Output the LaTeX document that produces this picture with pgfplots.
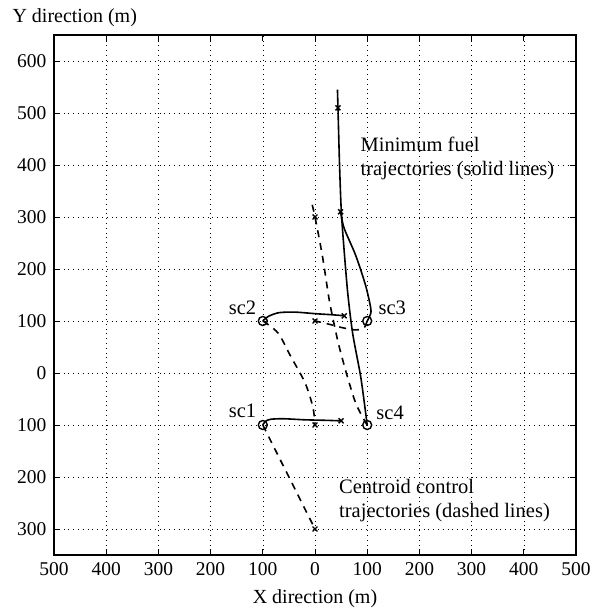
\documentclass[border=0pt]{standalone}
\usepackage{fontspec}
\setmainfont{Liberation Serif}
\usepackage{pgfplots}
\pgfplotsset{compat=1.18}

\begin{document}
\begin{tikzpicture}
\begin{axis}[
    scale only axis,
    width=522pt, height=520pt,
    xmin=-500, xmax=500, ymin=-350, ymax=650,
    xtick={-500,-400,...,500},
    xticklabels={500,400,300,200,100,0,100,200,300,400,500},
    ytick={-300,-200,...,600},
    yticklabels={300,200,100,0,100,200,300,400,500,600},
    tick align=inside,
    major tick length=6pt,
    grid=major,
    grid style={black, line width=0.6pt, dash pattern=on 0.8pt off 4pt},
    axis line style={line width=1.1pt},
    tick style={black, line width=0.9pt},
    ticklabel style={font=\fontsize{19.5}{21}\selectfont},
    xticklabel style={yshift=-4pt},
    yticklabel style={xshift=-4pt},
    /pgf/number format/assume math mode=true,
    xlabel={X direction (m)},
    every axis x label/.style={at={(axis description cs:0.5,0)}, anchor=north, yshift=-31pt, font=\fontsize{20}{22}\selectfont},
    ylabel={Y direction (m)},
    every axis y label/.style={at={(axis description cs:0,1)}, anchor=south west, xshift=-45pt, yshift=5pt, font=\fontsize{20}{22}\selectfont},
    clip=false,
]
% minimum fuel (solid)
\addplot[black, line width=1.6pt, smooth, tension=0.5] coordinates {
    (-100,-100) (-95,-93) (-85,-89) (-60,-88) (-20,-90) (20,-91) (50,-92)};
\addplot[black, line width=1.6pt, smooth, tension=0.5] coordinates {
    (-100,100) (-89,109) (-69,116) (-37,117) (1,114) (33,112) (56,110)};
\addplot[black, line width=1.6pt, smooth, tension=0.5] coordinates {
    (100,100) (105,110) (107,123) (97,168) (78,226) (56,278) (49,310)};
\addplot[black, line width=1.6pt, smooth, tension=0.4] coordinates {
    (100,-100) (88,-10) (72,77) (62,161) (51,300) (47,400) (44,510) (43,545)};
% centroid control (dashed)
\addplot[black, line width=1.6pt, dash pattern=on 7pt off 6pt] coordinates {
    (-100,-100) (0,-300)};
\addplot[black, line width=1.6pt, dash pattern=on 7pt off 6pt, smooth] coordinates {
    (-100,100) (-71,77) (-46,31) (-19,-19) (-4,-66) (0,-100)};
\addplot[black, line width=1.6pt, dash pattern=on 7pt off 6pt, smooth] coordinates {
    (100,100) (95,88) (88,84) (75,83) (53,87) (30,93) (14,97) (0,100)};
\addplot[black, line width=1.6pt, dash pattern=on 7pt off 6pt, smooth] coordinates {
    (100,-100) (94,-90) (78,-58) (62,-7) (46,52) (36,97) (27,142) (14,226) (0,300) (-6,326)};
% markers
\addplot[only marks, mark=x, mark size=3.5pt, line width=1.4pt, black] coordinates {
    (0,300) (0,100) (0,-100) (0,-300) (56,110) (50,-92) (49,310) (44,510)};
\addplot[only marks, mark=o, mark size=4.5pt, line width=1.4pt, black, fill=white] coordinates {
    (-100,-100) (-100,100) (100,100) (100,-100)};
% labels
\node[anchor=east, font=\fontsize{20.5}{22}\selectfont] at (axis cs:-106,-73) {sc1};
\node[anchor=east, font=\fontsize{20.5}{22}\selectfont] at (axis cs:-106,125) {sc2};
\node[anchor=west, font=\fontsize{20.5}{22}\selectfont] at (axis cs:115,125) {sc3};
\node[anchor=west, font=\fontsize{20.5}{22}\selectfont] at (axis cs:111,-77) {sc4};
\node[anchor=west, align=left, inner sep=0pt, font=\fontsize{20.5}{24}\selectfont] at (axis cs:87,412) {Minimum fuel\\trajectories (solid lines)};
\node[anchor=west, align=left, inner sep=0pt, font=\fontsize{20.5}{24}\selectfont] at (axis cs:46,-246) {Centroid control\\trajectories (dashed lines)};
\end{axis}
\pgfresetboundingbox
\path (current axis.south west) ++(-54pt,-54pt) rectangle ++(600pt,609pt);
\end{tikzpicture}
\end{document}
